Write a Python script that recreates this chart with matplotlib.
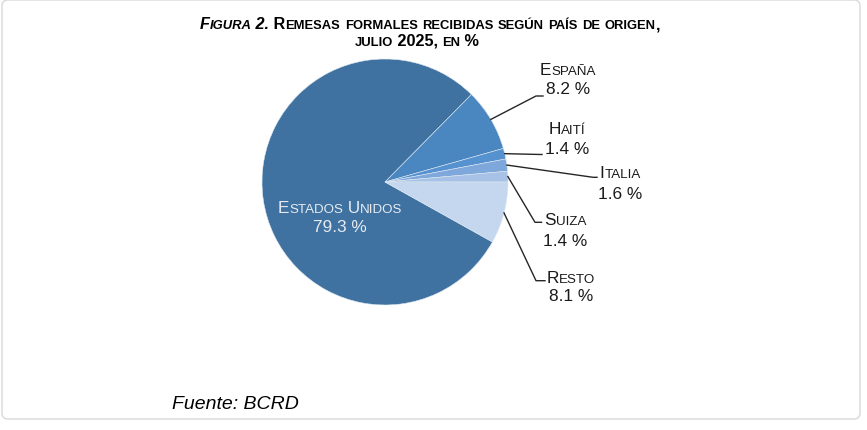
import numpy as np
import matplotlib
matplotlib.use('Agg')
import matplotlib.pyplot as plt
from matplotlib.lines import Line2D
from matplotlib.patches import FancyBboxPatch
from matplotlib.transforms import IdentityTransform

# ---------------------------------------------------------------------------
# datos
# ---------------------------------------------------------------------------
paises = ['Estados Unidos', 'España', 'Haití', 'Italia', 'Suiza', 'Resto']
valores = [79.3, 8.2, 1.4, 1.6, 1.4, 8.1]
colores = ['#3f72a0', '#4a86bf', '#5592cf', '#7ea8db', '#a7c2e6', '#c5d7ee']

titulo_1 = [('Figura 2.', 'italic'), (' Remesas formales recibidas según país de origen,', 'normal')]
titulo_2 = [('julio 2025, en %', 'normal')]
fuente = 'Fuente: BCRD'

# ---------------------------------------------------------------------------
# figura
# ---------------------------------------------------------------------------
W, H = 867, 431
plt.rcParams['font.family'] = ['Liberation Sans', 'DejaVu Sans']
fig = plt.figure(figsize=(W / 100, H / 100), dpi=100)
ID = IdentityTransform()

# marco gris redondeado
marco = FancyBboxPatch((2, H - 420), 858, 419, boxstyle='round,pad=0,rounding_size=6',
                       transform=ID, facecolor='none', edgecolor='#d9d9d9', linewidth=1.0,
                       zorder=-1)
fig.add_artist(marco)

cx, cy, r = 385, 183, 123   # centro y radio de la torta en pixeles (desde arriba)
ax = fig.add_axes([(cx - r) / W, (H - cy - r) / H, 2 * r / W, 2 * r / H])
wedges, _ = ax.pie(valores, colors=colores, startangle=-29.16, counterclock=False,
                   radius=1.0, wedgeprops=dict(edgecolor='#dce6f1', linewidth=0.4))
ax.set_xlim(-1, 1)
ax.set_ylim(-1, 1)

renderer = fig.canvas.get_renderer()


def ancho(txt, size, weight, style):
    kw = dict(fontsize=size, fontweight=weight, fontstyle=style, transform=ID)
    t1 = fig.text(0, 0, '|' + txt + '|', **kw)
    t2 = fig.text(0, 0, '||', **kw)
    w = t1.get_window_extent(renderer).width - t2.get_window_extent(renderer).width
    t1.remove()
    t2.remove()
    return w


def versalitas(segmentos, size, ratio=0.78):
    runs = []
    for s, style in segmentos:
        for ch in s:
            sz = size * ratio if ch.islower() else size
            if runs and runs[-1][1] == sz and runs[-1][2] == style:
                runs[-1][0] += ch.upper()
            else:
                runs.append([ch.upper(), sz, style])
    return runs


def escribir(segmentos, xc, yc, size, weight='normal', color='#1a1a1a', ratio=0.78):
    # yc: centro vertical de las mayusculas, en pixeles desde arriba
    runs = versalitas(segmentos, size, ratio)
    anchos = [ancho(t, sz, weight, st) for t, sz, st in runs]
    x = xc - sum(anchos) / 2
    y = H - (yc + 0.358 * size * 100 / 72)
    for (t, sz, st), w in zip(runs, anchos):
        fig.text(x, y, t, fontsize=sz, fontweight=weight, fontstyle=st, color=color,
                 ha='left', va='baseline', transform=ID)
        x += w


# titulo
escribir(titulo_1, 430, 23.5, 11.7, weight='bold', color='black', ratio=0.8)
escribir(titulo_2, 417, 40, 11.7, weight='bold', color='black', ratio=0.8)

# etiquetas: (centro nombre, centro valor) y quiebre de la linea guia
fs = 12.4
pos_nombre = [(340, 207), (568, 69), (567, 128), (620, 171.5), (565, 219), (571, 276.5)]
pos_valor = [(340, 226), (568, 88), (567, 148), (620, 193), (565, 240), (571, 294.5)]
quiebre = [None, (536, 97), (541, 155.5), (593, 178.3), (535, 223.3), (536, 281.7)]
fin = [None, (543, 97), (542, 155.5), (597, 178.3), (541.5, 223.3), (545, 281.7)]

for i, w in enumerate(wedges):
    col = '#e6ebf2' if i == 0 else '#1a1a1a'
    escribir([(paises[i], 'normal')], pos_nombre[i][0], pos_nombre[i][1], fs, color=col)
    escribir([(f'{valores[i]:.1f} %', 'normal')], pos_valor[i][0], pos_valor[i][1], fs, color=col)
    if quiebre[i] is None:
        continue
    ang = np.deg2rad((w.theta1 + w.theta2) / 2)
    px, py = ax.transData.transform((np.cos(ang), np.sin(ang)))
    xs = [px, quiebre[i][0], fin[i][0]]
    ys = [py, H - quiebre[i][1], H - fin[i][1]]
    fig.add_artist(Line2D(xs, ys, color='#262626', linewidth=1.0, transform=ID))

# fuente
fig.text(172, H - 409, fuente, fontsize=14, fontstyle='italic', color='black',
         ha='left', va='baseline', transform=ID)

fig.savefig('out.png', dpi=100)
